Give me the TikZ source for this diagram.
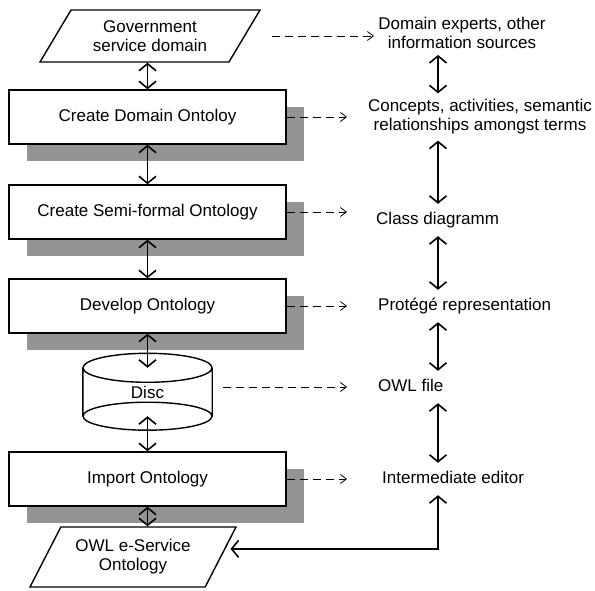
\documentclass[tikz,border=0pt]{standalone}
\usepackage{fontspec}
\setmainfont{Liberation Sans}
\usetikzlibrary{shapes.geometric,arrows.meta,shadows}

\tikzset{
  stepbox/.style={draw, line width=1.4pt, fill=white,
    minimum width=277pt, minimum height=54pt, inner sep=0pt,
    drop shadow={shadow xshift=18pt, shadow yshift=-17pt, opacity=1, fill=black!42}},
  datapar/.style={draw, line width=1.4pt, trapezium, trapezium stretches body,
    align=center, inner sep=0pt},
  sidetext/.style={align=center, inner xsep=4pt, inner ysep=6pt},
  sideline/.style={inner xsep=4pt, inner ysep=8pt, text height=12.5pt, text depth=3.5pt},
  flow/.style={line width=1.6pt,
    {Straight Barb[length=7pt,width=17pt]}-{Straight Barb[length=7pt,width=17pt]}},
  feed/.style={line width=0.8pt, dash pattern=on 8pt off 5pt,
    -{Straight Barb[length=6pt,width=9pt]}},
}

\begin{document}
\begin{tikzpicture}[x=1pt, y=1pt, font=\fontsize{17}{19}\selectfont]
    \useasboundingbox (0,0) rectangle (595,-591);
    \coordinate (ax) at (438,0);
    \coordinate (tip) at (347,0);
%
    \node[datapar, trapezium left angle=45, trapezium right angle=135,
        minimum width=220pt, minimum height=52pt] (par1) at (150,-36)
        {Government\\service domain};
    \node[stepbox] (b1) at (147.5,-117) {Create Domain Ontoloy};
    \node[stepbox] (b2) at (147.5,-212) {Create Semi-formal Ontology};
    \node[stepbox] (b3) at (147.5,-306) {Develop Ontology};
    \node[minimum width=129pt, minimum height=48pt, inner sep=0pt]
        (disc) at (147.5,-392) {Disc};
    \draw[line width=1.4pt] (disc.north) ellipse (64.5 and 14.5)
        (disc.south) ellipse (64.5 and 14)
        (disc.north west) -- (disc.south west)
        (disc.north east) -- (disc.south east);
    \node[stepbox] (b4) at (147.5,-479) {Import Ontology};
    \node[datapar, trapezium left angle=48.5, trapezium right angle=131.5,
        minimum width=206pt, minimum height=60pt] (par2) at (133,-557)
        {OWL e-Service\\Ontology};
%
    \node[sidetext] (r1) at (462,-33) {Domain experts, other\\information sources};
    \node[sidetext] (r2) at (480,-117) {Concepts, activities, semantic\\relationships amongst terms};
    \node[sideline, anchor=west] (r3) at (372,-220) {Class diagramm};
    \node[sideline, anchor=west] (r4) at (374,-306) {Protégé representation};
    \node[sideline, anchor=west] (r5) at (374,-387) {OWL file};
    \node[sideline, anchor=west] (r6) at (378,-479) {Intermediate editor};
%
    \draw[flow] (b1.north |- par1.south) -- (b1.north);
    \draw[flow] (b1.south) -- (b2.north);
    \draw[flow] (b2.south) -- (b3.north);
    \draw[flow] (b3.south) -- (disc.north);
    \draw[flow] (disc.south) -- (b4.north);
    \draw[flow] (b4.south) -- (b4.south |- par2.north);
%
    \draw[flow] (r1.south -| ax) -- (r2.north -| ax);
    \draw[flow] (r2.south -| ax) -- (r3.north -| ax);
    \draw[flow] (r3.south -| ax) -- (r4.north -| ax);
    \draw[flow] (r4.south -| ax) -- (r5.north -| ax);
    \draw[flow] (r5.south -| ax) -- (r6.north -| ax);
    \draw[flow, shorten >=5pt] (r6.south -| ax) |- (par2.5);
%
    \draw[feed] ([xshift=27pt]par1.east) -- ([xshift=27pt]par1.east -| tip);
    \draw[feed] (b1.east) -- (b1.east -| tip);
    \draw[feed] (b2.east) -- (b2.east -| tip);
    \draw[feed] (b3.east) -- (b3.east -| tip);
    \draw[feed] ([xshift=11pt,yshift=5pt]disc.east) -- ([yshift=5pt]disc.east -| tip);
    \draw[feed] (b4.east) -- (b4.east -| tip);
\end{tikzpicture}
\end{document}
